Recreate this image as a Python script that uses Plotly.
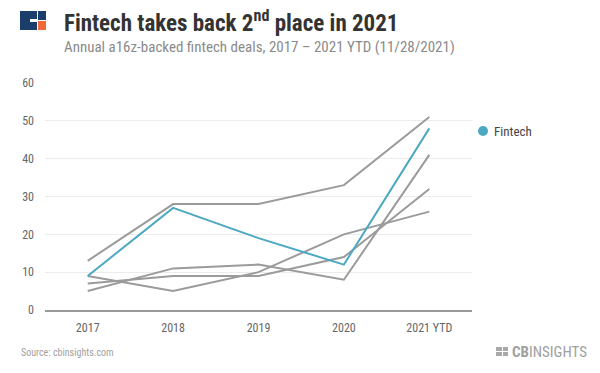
import plotly.graph_objects as go

categories = ["2017", "2018", "2019", "2020", "2021 YTD"]
fintech = [9, 27, 19, 12, 48]
other_a = [13, 28, 28, 33, 51]
other_b = [9, 5, 10, 20, 26]
other_c = [5, 11, 12, 8, 41]
other_d = [7, 9, 9, 14, 32]
y_ticks = [0, 10, 20, 30, 40, 50, 60]

FONT = "Roboto Condensed, Liberation Sans Narrow, DejaVu Sans Condensed, Roboto, sans-serif"
TEAL = "#4DA8C2"
GRAY = "#9b9b9b"

fig = go.Figure()
for s in [other_a, other_b, other_c, other_d]:
    fig.add_trace(go.Scatter(x=categories, y=s, mode="lines", showlegend=False,
                             line=dict(color=GRAY, width=2), hoverinfo="skip"))
fig.add_trace(go.Scatter(x=categories, y=fintech, mode="lines", name="Fintech",
                         showlegend=False, line=dict(color=TEAL, width=2)))

L, R, T, B = 45, 128, 83, 63
W, H = 600, 373
pw, ph = W - L - R, H - T - B

def px(x):
    return (x - L) / pw

def py(y):
    return (H - B - y) / ph

shapes = []
def rect(x0, y0, x1, y1, color):
    shapes.append(dict(type="rect", xref="paper", yref="paper",
                       x0=px(x0), x1=px(x1), y0=py(y1), y1=py(y0),
                       fillcolor=color, line=dict(width=0), layer="above"))

# title logo
rect(20, 11, 37, 30, "#1b3d6b")
rect(30, 19, 38, 22, "white")
rect(38, 11, 46, 20, "#1b3d6b")
rect(38, 21, 46, 30, "#f26a36")
# footer logo
rect(496, 347, 502, 351, "#a8a8a8")
rect(503, 347, 508, 351, "#a8a8a8")
rect(496, 352, 502, 356, "#a8a8a8")
rect(503, 352, 508, 356, "#a8a8a8")
# legend dot
shapes.append(dict(type="circle", xref="paper", yref="paper",
                   x0=px(478), x1=px(488), y0=py(136), y1=py(126),
                   fillcolor=TEAL, line=dict(width=0), layer="above"))

annotations = [
    dict(text="<b>Fintech takes back 2<sup>nd</sup> place in 2021</b>", x=px(62), y=py(22),
         xref="paper", yref="paper", xanchor="left", yanchor="middle", showarrow=False,
         font=dict(family=FONT, size=23, color="#333333")),
    dict(text="Annual a16z-backed fintech deals, 2017 – 2021 YTD (11/28/2021)", x=px(62), y=py(47),
         xref="paper", yref="paper", xanchor="left", yanchor="middle", showarrow=False,
         font=dict(family=FONT, size=15, color="#8a8a8a")),
    dict(text="Fintech", x=px(492), y=py(131),
         xref="paper", yref="paper", xanchor="left", yanchor="middle", showarrow=False,
         font=dict(family=FONT, size=13, color="#444444")),
    dict(text="Source: cbinsights.com", x=px(19), y=py(352),
         xref="paper", yref="paper", xanchor="left", yanchor="middle", showarrow=False,
         font=dict(family=FONT, size=10, color="#a0a0a0")),
    dict(text="<b>CB</b>INSIGHTS", x=px(589), y=py(352),
         xref="paper", yref="paper", xanchor="right", yanchor="middle", showarrow=False,
         font=dict(family=FONT, size=15, color="#a0a0a0")),
]

fig.update_layout(
    width=W, height=H,
    margin=dict(l=L, r=R, t=T, b=B, pad=0),
    paper_bgcolor="white", plot_bgcolor="white",
    font=dict(family=FONT, size=12, color="#666666"),
    shapes=shapes, annotations=annotations, showlegend=False,
    xaxis=dict(type="category", range=[-0.5, 4.5], showgrid=False, showline=True,
               linecolor="#999999", linewidth=1.5, ticks="", automargin=False,
               tickfont=dict(size=12, color="#666666"), fixedrange=True,
               ticklabelstandoff=6),
    yaxis=dict(range=[0, 60], tickvals=y_ticks, showgrid=True, gridcolor="#ececec",
               zeroline=False, showline=False, ticks="", ticklabelstandoff=10, automargin=False,
               tickfont=dict(size=12, color="#666666"), fixedrange=True),
)

fig.write_html("out.html", config={"displayModeBar": False},
               post_script="document.body.style.margin='0';document.body.style.overflow='hidden';")
